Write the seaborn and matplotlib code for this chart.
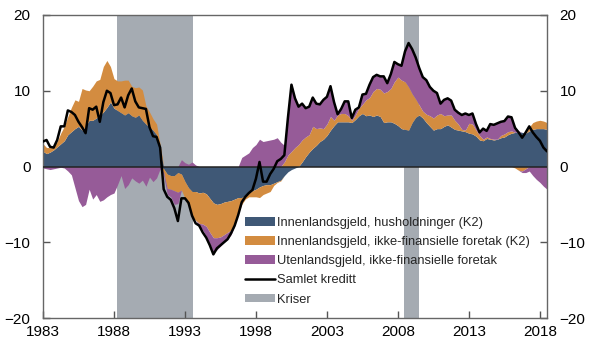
import numpy as np
import pandas as pd
import matplotlib
matplotlib.use("Agg")
import matplotlib.pyplot as plt
import seaborn as sns
from matplotlib.patches import Patch
from matplotlib.lines import Line2D

sns.set_theme(style="ticks")
plt.rcParams["font.family"] = ["Liberation Sans", "DejaVu Sans"]

# Quarterly twelve-month growth, per cent, from 1983 Q1
start_year = 1983

husholdninger = [
    2.0, 1.7, 1.9, 2.2,   2.6, 3.0, 3.4, 4.2,   4.6, 5.0, 5.3, 4.8,   5.3, 6.1, 6.1, 6.4,
    6.7, 7.2, 7.8, 8.5,   7.7, 7.4, 7.1, 6.8,   7.1, 6.7, 6.5, 6.8,   6.1, 5.6, 5.2, 4.8,
    4.2, 1.9, -0.3, -1.0, -1.2, -1.2, -0.8, -1.0, -2.0, -2.8, -3.3, -3.3, -3.5, -3.4, -3.6, -4.2,
    -4.8, -5.0, -4.9, -4.7, -4.6, -4.5, -4.3, -4.1, -4.1, -3.8, -3.5, -3.2, -3.0, -2.7, -2.5, -2.4,
    -2.4, -2.2, -2.0, -1.8, -1.2, -0.7, -0.4, -0.2, 0.0, 0.6, 1.3, 1.9,  2.4, 2.8, 3.3, 3.6,
    4.1, 4.8, 5.4, 5.9,   5.9, 5.9, 5.9, 5.8,   6.2, 6.7, 7.0, 6.7,   6.8, 6.6, 6.8, 6.6,
    5.8, 5.9, 5.9, 5.7,   5.4, 5.0, 4.9, 4.8,   5.8, 6.5, 6.8, 6.4,   5.8, 5.3, 4.8, 5.0,
    5.0, 5.3, 5.5, 5.2,   4.9, 4.8, 4.7, 4.6,   4.4, 4.3, 4.0, 3.5,   3.4, 3.7, 3.6, 3.5,
    3.6, 3.8, 3.9, 4.2,   4.4, 4.5, 4.6, 4.5,   4.4, 4.7, 4.9, 5.0,   5.0, 5.0, 4.9,
]

foretak_innland = [
    1.0, 0.8, 0.6, 0.5,   0.7, 1.4, 1.9, 2.4,   3.2, 3.8, 3.3, 5.5,   4.8, 3.9, 4.5, 4.9,
    4.8, 6.0, 6.2, 4.7,   3.9, 3.9, 4.2, 4.6,   4.3, 3.9, 3.9, 3.7,   4.0, 2.4, 2.0, 1.5,
    1.4, 1.0, -0.5, -1.9, -1.8, -2.0, -2.6, -2.1, -2.2, -2.5, -3.3, -3.8, -4.0, -4.2, -4.3, -4.5,
    -4.6, -4.4, -4.4, -4.3, -4.1, -3.9, -3.2, -2.1, -0.9, -0.5, -0.5, -0.8, -1.0, -1.4, -1.2, -1.1,
    -0.9, -0.3, -0.1, -0.1, 0.6, 1.5, 2.0, 2.5,  2.9, 2.9, 2.6, 2.3,   2.9, 2.2, 1.8, 1.4,
    1.5, 1.8, 0.7, 0.9,   1.1, 1.1, 0.8, 0.3,   0.6, 1.0, 1.2, 2.1,   2.3, 3.3, 3.5, 3.6,
    3.9, 4.0, 4.4, 5.5,   6.4, 6.4, 6.3, 5.7,   3.8, 2.4, 1.3, 0.9,   1.1, 1.4, 1.6, 1.8,
    2.0, 1.4, 1.3, 1.6,   1.2, 0.8, 0.2, 0.2,   1.3, 1.3, 0.8, 0.6,   0.2, 0.2, 0.1, 0.1,
    0.0, 0.3, 0.4, 0.4,   0.3, -0.2, -0.5, -0.6, -0.3, 0.5, 0.9, 1.0,  1.1, 1.0, 0.9,
]

foretak_utland = [
    -0.2, -0.3, -0.4, -0.3, -0.2, -0.1, -0.2, -0.6, -1.1, -2.8, -4.5, -5.3, -5.0, -3.0, -4.3, -3.7,
    -4.6, -4.4, -4.0, -3.7, -3.5, -2.4, -1.2, -2.9, -2.4, -1.5, -1.9, -2.2, -1.8, -2.6, -1.4, -2.0,
    -1.5, -0.3, -0.4, -0.8, -1.0, -1.8, -1.5, 0.9,  0.5, 0.3, 0.6, 0.2,  -0.3, -0.8, -1.3, -1.5,
    -2.0, -1.6, -1.2, -1.0, -0.9, -0.6, -0.3, 0.0,  1.2, 1.5, 1.8, 2.5,   2.9, 3.6, 3.3, 3.4,
    3.5, 3.6, 3.8, 3.2,   2.2, 4.9, 9.0, 6.6,   5.0, 4.8, 3.8, 3.7,   3.8, 3.3, 3.1, 3.8,
    3.6, 4.0, 2.4, 0.2,   0.6, 1.6, 1.9, 0.3,   0.7, 0.5, 1.3, 0.8,   1.7, 1.9, 1.8, 1.7,
    2.2, 1.1, 1.9, 2.6,   1.7, 2.1, 4.0, 5.8,   5.9, 5.5, 4.9, 4.5,   4.4, 3.7, 3.5, 2.9,
    1.3, 2.1, 2.2, 1.9,   1.4, 1.5, 1.9, 2.2,   1.1, 1.4, 0.8, 0.4,   1.4, 0.8, 1.9, 1.9,
    2.1, 1.8, 1.7, 2.0,   1.8, 0.7, 0.1, -0.2, -0.5, -0.6, -1.2, -1.7, -2.1, -2.6, -3.0,
]

samlet_kreditt = [
    3.3, 3.5, 2.6, 2.5,   3.5, 5.3, 5.3, 7.4,   7.2, 6.8, 5.9, 5.2,   4.4, 7.7, 7.5, 7.9,
    5.9, 8.5, 10.0, 9.7,  8.1, 8.2, 9.1, 7.8,   9.4, 10.3, 8.6, 7.8,  7.7, 7.6, 5.2, 4.0,
    3.9, 2.5, -3.0, -4.0, -4.4, -5.5, -7.2, -4.2, -4.2, -4.8, -6.5, -7.5, -7.8, -8.7, -9.4, -10.4,
    -11.6, -10.8, -10.4, -10.0, -9.6, -8.8, -7.8, -6.4, -4.7, -4.0, -3.5, -3.1, -1.6, 0.6, -2.0, -2.0,
    -1.0, -0.3, 0.7, 1.0,  1.5, 6.4, 10.8, 9.0,  7.9, 8.3, 7.7, 7.9,   9.1, 8.3, 8.2, 8.8,
    9.2, 10.6, 8.5, 6.9,  7.6, 8.6, 8.6, 6.4,   7.5, 7.8, 9.5, 9.6,   10.8, 11.8, 12.1, 11.9,
    11.9, 11.0, 12.2, 13.8, 13.5, 13.3, 15.2, 16.3, 15.5, 14.4, 13.0, 11.8, 11.4, 10.5, 10.0, 9.7,
    8.3, 8.8, 9.0, 8.7,   7.5, 7.1, 6.8, 7.0,   6.8, 7.0, 5.6, 4.5,   5.0, 4.7, 5.6, 5.5,
    5.7, 5.9, 6.0, 6.6,   6.5, 5.1, 4.5, 3.8,   4.5, 5.3, 4.5, 3.9,   3.4, 2.5, 2.0,
]

kriser = [(1988.2, 1993.55), (2008.45, 2009.5)]

labels = [
    "Innenlandsgjeld, husholdninger (K2)",
    "Innenlandsgjeld, ikke-finansielle foretak (K2)",
    "Utenlandsgjeld, ikke-finansielle foretak",
    "Samlet kreditt",
    "Kriser",
]
colors = ["#3f5876", "#d38c40", "#965b98"]
line_color = "#000000"
crisis_color = "#a5abb2"

year_ticks = list(range(1983, 2019, 5))
y_ticks = [-20, -10, 0, 10, 20]

n = len(samlet_kreditt)
df = pd.DataFrame({
    "dato": start_year + np.arange(n) / 4.0,
    "husholdninger": husholdninger,
    "foretak_innland": foretak_innland,
    "foretak_utland": foretak_utland,
    "samlet": samlet_kreditt,
})

fig = plt.figure(figsize=(5.9, 3.44), dpi=100)
ax = fig.add_axes([43 / 590, 26 / 344, 504 / 590, 303 / 344])

for a, b in kriser:
    ax.axvspan(a, b, color=crisis_color, lw=0, zorder=0)

# Stacked areas, positive and negative parts stacked separately
x = df["dato"].to_numpy()
pos_base = np.zeros(n)
neg_base = np.zeros(n)
for col, color in zip(["husholdninger", "foretak_innland", "foretak_utland"], colors):
    v = df[col].to_numpy()
    p = np.clip(v, 0, None)
    q = np.clip(v, None, 0)
    ax.fill_between(x, pos_base, pos_base + p, facecolor=color, lw=0, zorder=2)
    ax.fill_between(x, neg_base, neg_base + q, facecolor=color, lw=0, zorder=2)
    pos_base = pos_base + p
    neg_base = neg_base + q

ax.axhline(0, color="#222222", lw=1.1, zorder=3)
sns.lineplot(data=df, x="dato", y="samlet", color=line_color, lw=1.8, ax=ax, zorder=4)

ax.set_xlim(1983, 2018.5)
ax.set_ylim(-20, 20)
ax.set_xticks(year_ticks)
ax.set_yticks(y_ticks)
ax.set_xlabel("")
ax.set_ylabel("")
ax.tick_params(axis="x", direction="in", length=5, width=1, color="#555555",
               labelsize=11, labelcolor="black", pad=5, top=False)
ax.tick_params(axis="y", direction="in", length=5, width=1, color="#555555",
               labelsize=11, labelcolor="black", left=True, right=True,
               labelleft=True, labelright=True, pad=9)
for s in ax.spines.values():
    s.set_color("#666666")
    s.set_linewidth(1.0)

handles = [
    Patch(facecolor=colors[0], edgecolor="none"),
    Patch(facecolor=colors[1], edgecolor="none"),
    Patch(facecolor=colors[2], edgecolor="none"),
    Line2D([0], [0], color=line_color, lw=1.8),
    Patch(facecolor=crisis_color, edgecolor="none"),
]
ax.legend(handles, labels, loc="upper left", bbox_to_anchor=(0.4, 0.333),
          frameon=False, fontsize=9.3, handlelength=2.35, handleheight=0.65,
          handletextpad=0.15, labelspacing=0.55, borderpad=0, borderaxespad=0)

fig.savefig("out.png", dpi=100)
